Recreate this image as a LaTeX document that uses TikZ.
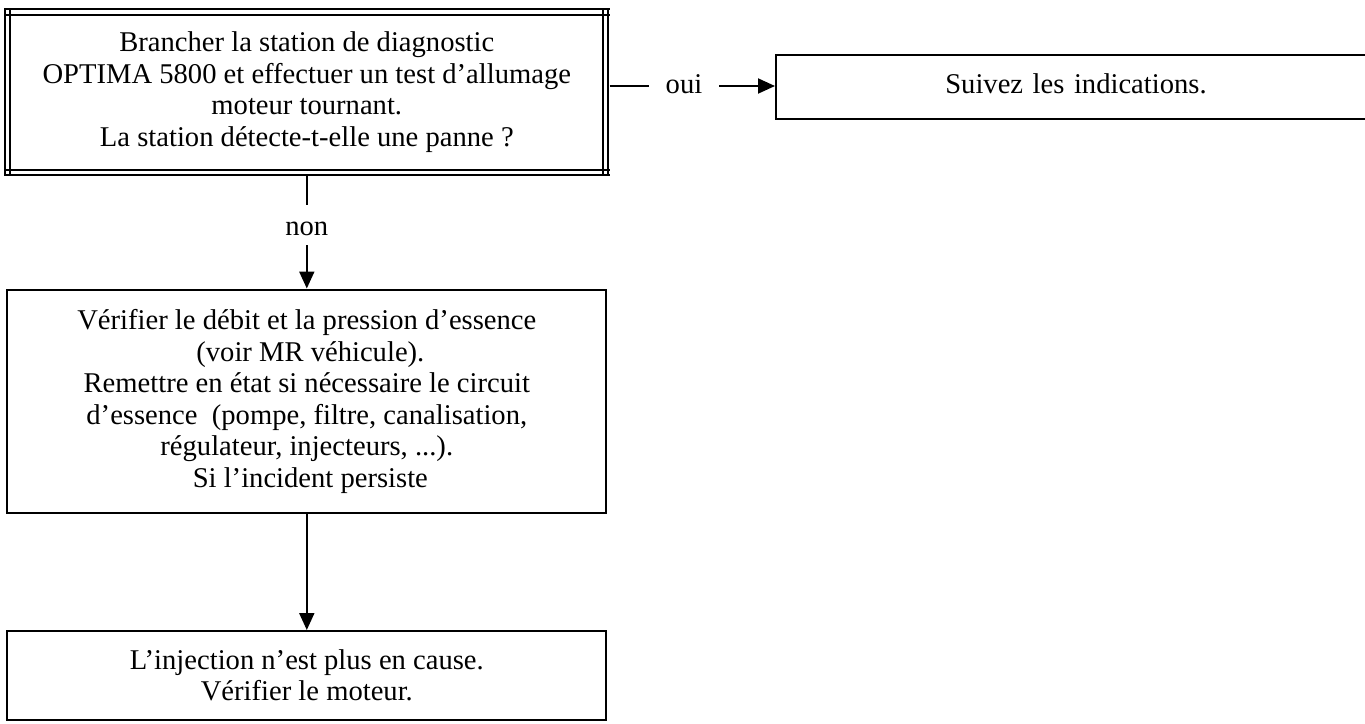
\documentclass[tikz,border=0pt]{standalone}
\usepackage{fontspec}
\setmainfont{Liberation Serif}
\usetikzlibrary{arrows.meta,calc}
\begin{document}
\begin{tikzpicture}[x=1pt,y=-1pt,
  every node/.style={font=\fontsize{28.6}{31.5}\selectfont},
  box/.style={draw, line width=2pt, align=center, inner sep=0pt},
  plain/.style={inner sep=0pt},
  conn/.style={line width=2pt},
  arr/.style={line width=2pt,-{Triangle[length=17pt,width=15pt]}},
  frameline/.style={line width=2pt}
]
\useasboundingbox (0,0) rectangle (1365,723);

% top decision box (double frame drawn below)
\node[plain, minimum width=605pt, minimum height=167pt, align=center] (t) at (306.8,92)
 {Brancher la station de diagnostic\\
  OPTIMA 5800 et effectuer un test d’allumage\\
  moteur tournant.\\
  La station détecte-t-elle une panne ?};
% double frame with crossing corners
\draw[frameline] ($(t.north west)+(0,1)$) -- ($(t.north east)+(0,1)$);
\draw[frameline] ($(t.north west)+(0,6.5)$) -- ($(t.north east)+(0,6.5)$);
\draw[frameline] ($(t.south west)+(0,-1.2)$) -- ($(t.south east)+(0,-1.2)$);
\draw[frameline] ($(t.south west)+(0,-5.8)$) -- ($(t.south east)+(0,-5.8)$);
\draw[frameline] ($(t.north west)+(1,0)$) -- ($(t.south west)+(1,0)$);
\draw[frameline] ($(t.north west)+(6.2,0)$) -- ($(t.south west)+(6.2,0)$);
\draw[frameline] ($(t.north east)+(-1.3,0)$) -- ($(t.south east)+(-1.3,0)$);
\draw[frameline] ($(t.north east)+(-6.3,0)$) -- ($(t.south east)+(-6.3,0)$);

% right box (its right side lies just beyond the picture)
\node[box, anchor=west, minimum width=600pt, minimum height=64.4pt,
      text height=19.5pt, text depth=7pt, text width=593pt] (r) at (775,87)
 {\centering Suivez les indications.\par};

% oui label
\node[plain, anchor=base, inner xsep=16.7pt, text height=14pt, text depth=0pt] (oui) at (684,93) {oui};

% non label
\node[plain, anchor=base, inner ysep=10pt, text height=20pt, text depth=0pt] (non) at (306.8,235) {non};

% middle box
\node[box, minimum width=599pt, minimum height=223.8pt] (m) at (306.8,401.4)
 {Vérifier le débit et la pression d’essence\\
  \ (voir MR véhicule).\\
  Remettre en état si nécessaire le circuit\\
  d’essence\ \ (pompe, filtre, canalisation,\\
  régulateur, injecteurs, ...).\\
  \ Si l’incident persiste};

% bottom box
\node[box, minimum width=599pt, minimum height=89pt] (b) at (306.8,675.5)
 {L’injection n’est plus en cause.\\
  Vérifier le moteur.};

% connectors
\draw[conn] (oui.west -| t.east) -- (oui.west);
\draw[arr] (oui.east) -- (oui.east -| r.west);
\draw[conn] (t.south) -- (non.north);
\draw[arr] (non.south) -- (m.north);
\draw[arr] (m.south) -- (b.north);
\end{tikzpicture}
\end{document}
